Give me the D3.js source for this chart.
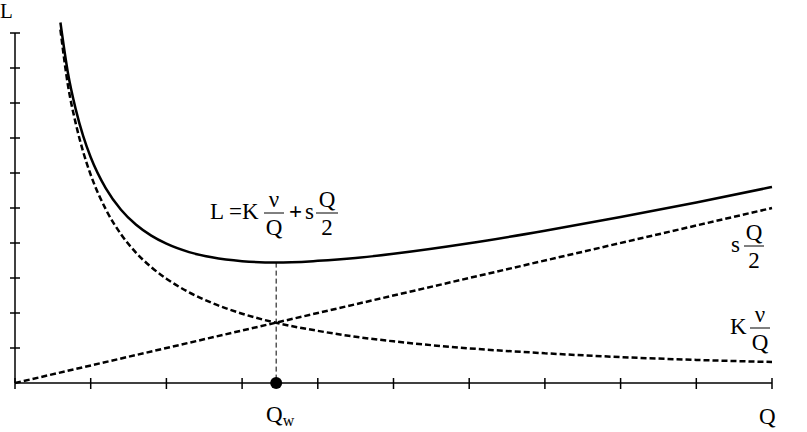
<!DOCTYPE html>
<html>
<head>
<meta charset="utf-8">
<script src="https://cdn.jsdelivr.net/npm/d3@7"></script>
<style>
  html, body { margin: 0; padding: 0; background: #fff; }
  svg { display: block; }
  text { font-family: "Liberation Serif", "Times New Roman", serif; fill: #000; }
</style>
</head>
<body>
<svg id="chart" width="807" height="432"></svg>
<script>
// ---- data ----
const xTicks = [0, 1, 2, 3, 4, 5, 6, 7, 8, 9, 10];
const yTicks = [1, 2, 3, 4, 5, 6, 7, 8, 9, 10];
const qValues      = [0.6, 0.7, 0.8, 0.9, 1.0, 1.2, 1.4, 1.6, 1.8, 2.0, 2.3, 2.6, 3.0, 3.45, 4.0, 4.5, 5.0, 6.0, 7.0, 8.0, 9.0, 10.0];
const orderCost    = [10.1, 8.5, 7.44, 6.61, 5.95, 4.96, 4.25, 3.72, 3.31, 2.98, 2.59, 2.29, 1.98, 1.72, 1.49, 1.32, 1.19, 0.99, 0.85, 0.74, 0.66, 0.6];
const totalCost    = [10.3, 8.85, 7.84, 7.06, 6.45, 5.56, 4.95, 4.52, 4.21, 3.98, 3.74, 3.59, 3.48, 3.44, 3.49, 3.57, 3.69, 3.99, 4.35, 4.74, 5.16, 5.6];
const holdQ        = [0, 10];
const holdCost     = [0, 5];
const qOptimal     = 3.45;
const lOptimal     = 3.44;

// ---- scales ----
const svg = d3.select("#chart");
const x = d3.scaleLinear().domain([0, 10]).range([15, 772]);
const y = d3.scaleLinear().domain([0, 10]).range([383, 33]);

// ---- axes ----
const ax = svg.append("g").attr("stroke", "#000").attr("stroke-width", 1.5);
ax.append("line").attr("x1", x(0)).attr("x2", x(0)).attr("y1", y(10)).attr("y2", y(0));
ax.append("line").attr("x1", x(0)).attr("x2", x(10)).attr("y1", y(0)).attr("y2", y(0));
ax.selectAll(".yt").data(yTicks).join("line")
  .attr("x1", x(0) - 5).attr("x2", x(0) + 5)
  .attr("y1", d => y(d)).attr("y2", d => y(d));
ax.selectAll(".xt").data(xTicks).join("line")
  .attr("x1", d => x(d)).attr("x2", d => x(d))
  .attr("y1", y(0) - 5).attr("y2", y(0) + 6);

// ---- curves ----
const line = d3.line().x(d => x(d[0])).y(d => y(d[1])).curve(d3.curveMonotoneX);

svg.append("path")
  .datum(holdQ.map((q, i) => [q, holdCost[i]]))
  .attr("d", line).attr("fill", "none").attr("stroke", "#000")
  .attr("stroke-width", 2.5).attr("stroke-dasharray", "6,3");

svg.append("path")
  .datum(qValues.map((q, i) => [q, orderCost[i]]))
  .attr("d", line).attr("fill", "none").attr("stroke", "#000")
  .attr("stroke-width", 2.5).attr("stroke-dasharray", "6,3");

svg.append("path")
  .datum(qValues.map((q, i) => [q, totalCost[i]]))
  .attr("d", line).attr("fill", "none").attr("stroke", "#000")
  .attr("stroke-width", 2.5);

// ---- optimum marker ----
svg.append("line")
  .attr("x1", x(qOptimal)).attr("x2", x(qOptimal))
  .attr("y1", y(lOptimal)).attr("y2", y(0))
  .attr("stroke", "#000").attr("stroke-width", 1).attr("stroke-dasharray", "5,3");
svg.append("circle").attr("cx", x(qOptimal)).attr("cy", y(0)).attr("r", 6).attr("fill", "#000");

// ---- labels ----
const FS = 23;
function t(txt, px, py, opts = {}) {
  const el = svg.append("text").attr("x", px).attr("y", py)
    .attr("font-size", opts.size || FS).text(txt);
  if (opts.anchor) el.attr("text-anchor", opts.anchor);
  if (opts.weight) el.attr("font-weight", opts.weight);
  return el;
}
function frac(num, den, x1, x2, ly) {
  svg.append("line").attr("x1", x1).attr("x2", x2).attr("y1", ly).attr("y2", ly)
    .attr("stroke", "#000").attr("stroke-width", 1);
  t(num, (x1 + x2) / 2, ly - 6, { anchor: "middle" });
  t(den, (x1 + x2) / 2, ly + 22, { anchor: "middle" });
}

t("L", 0, 18, { size: 21 });
const qw = t("Q", 266, 422);
qw.append("tspan").attr("font-size", 16).attr("dy", 4).text("w");
t("Q", 759, 424);

// formula
t("L =K", 210, 219);
frac("\u03bd", "Q", 264, 284, 213);
t("+", 289, 219, { weight: "bold" });
t("s", 305, 219);
frac("Q", "2", 316, 338, 213);

// right labels
t("s", 731, 252);
frac("Q", "2", 744, 764, 246);
t("K", 730, 334);
frac("\u03bd", "Q", 750, 770, 328);
</script>
</body>
</html>
